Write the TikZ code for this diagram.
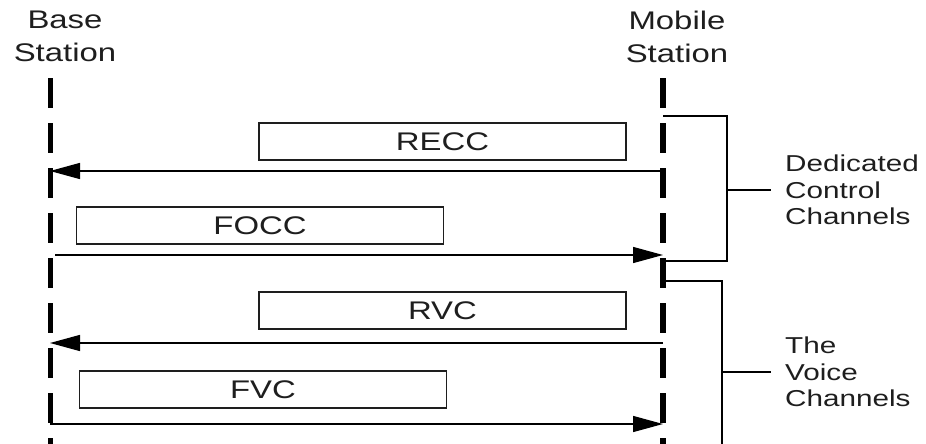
\documentclass[tikz,border=0pt]{standalone}
\usepackage{fontspec}
\setmainfont[FakeStretch=1.29]{Liberation Sans}
\usepackage{tikz}
\usetikzlibrary{arrows.meta,positioning}
\definecolor{inkgray}{RGB}{30,30,30}

\begin{document}
\begin{tikzpicture}[x=1pt,y=-1pt,line cap=butt,
		>={Triangle[length=30pt,width=16pt]},
		font=\fontsize{25.5}{33}\selectfont,text=inkgray]
		\tikzstyle{station}=[anchor=north,align=center,inner sep=0pt]
		\tikzstyle{lifeline}=[draw=black,dash pattern=on 30pt off 15pt]
		\tikzstyle{chanbox}=[draw=inkgray,line width=1.3pt,inner sep=0pt,
			minimum width=367pt,minimum height=37pt]
		\tikzstyle{msg}=[draw=black,line width=1.4pt,->]
		\tikzstyle{brace}=[draw=black,line width=1.3pt]
		\tikzstyle{group}=[anchor=west,align=left,inner sep=0pt,
			font=\fontsize{23}{26.5}\selectfont]
		
		\useasboundingbox (0,0) rectangle (926,444);
		
		\node[station] (bs) at (65,10.7)  {Base\\Station};
		\node[station] (ms) at (677,10.4) {Mobile\\Station};
		
		\coordinate (bs top) at (50,78);
		\coordinate (bs bot) at (50,450);
		\coordinate (ms top) at (663,78);
		\coordinate (ms bot) at (663,450);
		
		\draw[lifeline,line width=5pt] (bs top) -- (bs bot);
		\draw[lifeline,line width=6pt] (ms top) -- (ms bot);
		
		% channel boxes
		\node[chanbox] (recc) at (442.5,141.5) {RECC};
		\node[chanbox] (focc) at (260,225.5)   {FOCC};
		\node[chanbox] (rvc)  at (442.5,310.5) {RVC};
		\node[chanbox] (fvc)  at (263,389.5)   {FVC};
		
		\coordinate (ms recc) at (663,171);
		\coordinate (bs recc) at (50,171);
		\coordinate (bs focc) at (55,255);
		\coordinate (ms focc) at (663,255);
		\coordinate (ms rvc)  at (663,343);
		\coordinate (bs rvc)  at (50,343);
		\coordinate (bs fvc)  at (50,424);
		\coordinate (ms fvc)  at (663,424);
		
		\draw[msg] (ms recc) -- (bs recc);
		\draw[msg] (bs focc) -- (ms focc);
		\draw[msg] (ms rvc)  -- (bs rvc);
		\draw[msg] (bs fvc)  -- (ms fvc);
		
		% brackets
		\coordinate (dc a) at (663,116);
		\coordinate (dc b) at (727,116);
		\coordinate (dc c) at (727,261);
		\coordinate (dc d) at (663,261);
		\coordinate (dc m) at (727,190);
		\coordinate (dc t) at (771,190);
		\draw[brace] (dc a) -- (dc b) -- (dc c) -- (dc d);
		\draw[brace] (dc m) -- (dc t);
		\node[group] (dcc) [right=14pt of dc t] {Dedicated\\Control\\Channels};
		
		\coordinate (vc a) at (663,281);
		\coordinate (vc b) at (722,281);
		\coordinate (vc c) at (722,450);
		\coordinate (vc m) at (722,372);
		\coordinate (vc t) at (771,372);
		\draw[brace] (vc a) -- (vc b) -- (vc c);
		\draw[brace] (vc m) -- (vc t);
		\node[group] (vch) [right=14pt of vc t] {The\\Voice\\Channels};
\end{tikzpicture}
\end{document}
